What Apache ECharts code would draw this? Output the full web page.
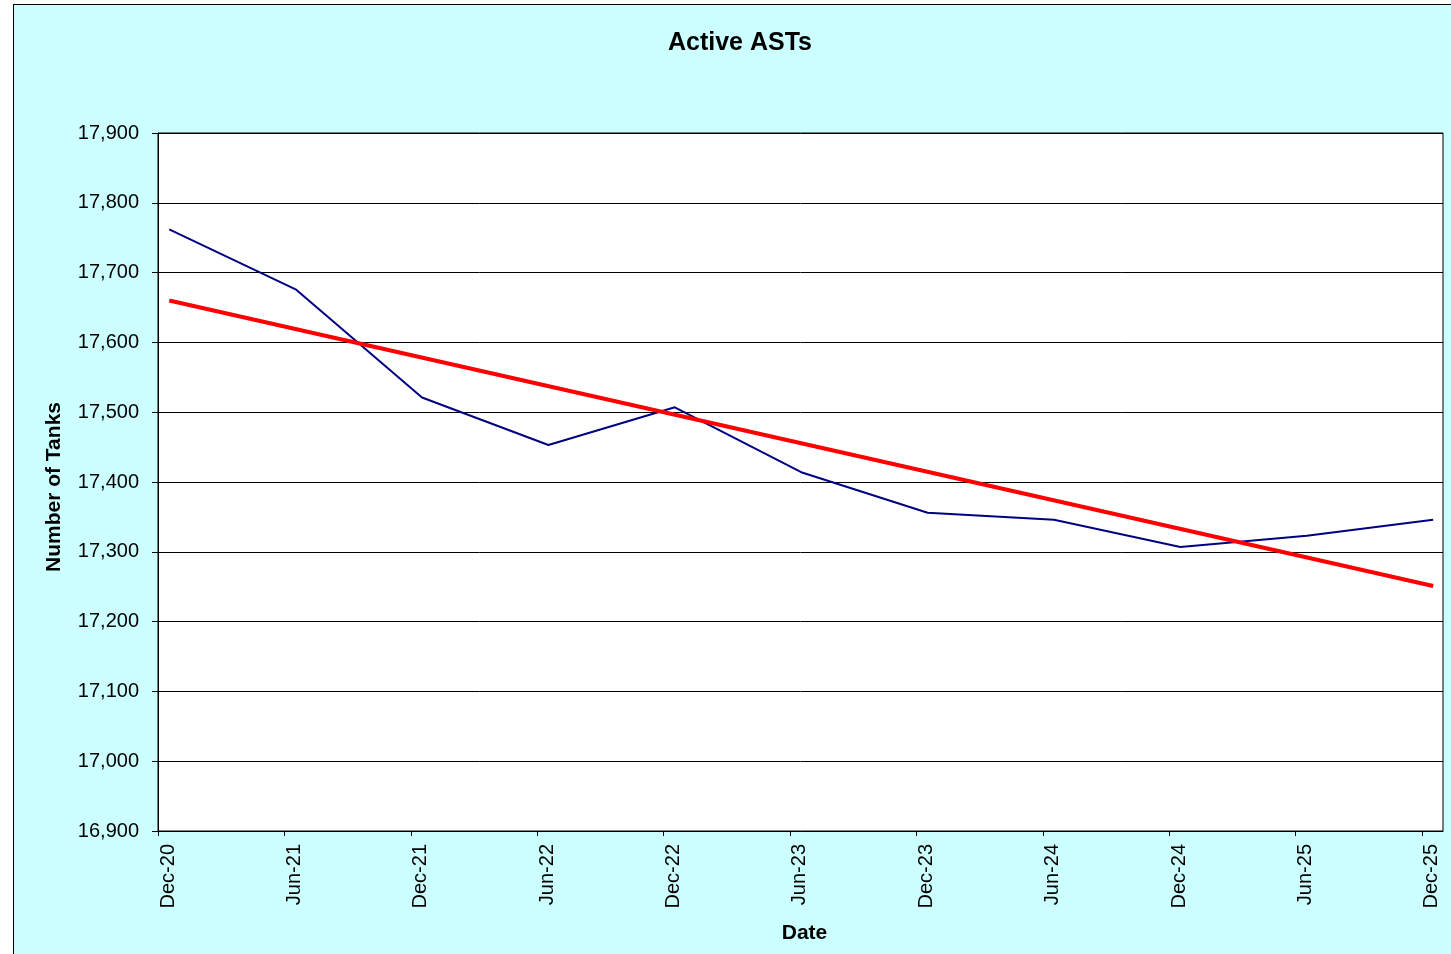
<!DOCTYPE html>
<html>
<head>
<meta charset="utf-8">
<title>Active ASTs</title>
<script src="https://cdn.jsdelivr.net/npm/echarts@6/dist/echarts.min.js"></script>
<style>
    html, body { margin: 0; padding: 0; background: #fff; overflow: hidden; }
    #frame {
        position: absolute; left: 13px; top: 4px; width: 1460px; height: 970px;
        background: #CCFFFF; border-left: 1px solid #000; border-top: 1px solid #000;
    }
    #main { position: absolute; left: 0; top: 0; width: 1451px; height: 954px; }
</style>
</head>
<body>
<div id="frame"></div>
<div id="main"></div>
<script>
// semi-annual counts of active tanks
var sampleDates = ['2020-12-17', '2021-06-17', '2021-12-17', '2022-06-17', '2022-12-17', '2023-06-17',
    '2023-12-17', '2024-06-17', '2024-12-17', '2025-06-17', '2025-12-17'];
var activeTanks = [17762, 17676, 17521, 17453, 17507, 17414, 17356, 17346, 17307, 17323, 17346];

// linear trend, end points
var trendDates = ['2020-12-17', '2025-12-17'];
var trendValues = [17660, 17251];

var tickLabels = ['Dec-20', 'Jun-21', 'Dec-21', 'Jun-22', 'Dec-22', 'Jun-23',
    'Dec-23', 'Jun-24', 'Dec-24', 'Jun-25', 'Dec-25'];

// months since Dec 1 2020
function toMonths(d) {
    var p = d.split('-');
    return (+p[0] - 2020) * 12 + (+p[1] - 12) + (+p[2] - 1) / 30;
}
function pairs(dates, vals) {
    var out = [];
    for (var i = 0; i < dates.length; i++) {
        out.push([toMonths(dates[i]), vals[i]]);
    }
    return out;
}

var font = "'Liberation Sans', Arial, sans-serif";
var myChart = echarts.init(document.getElementById('main'));
var option = {
    animation: false,
    title: {
        text: 'Active ASTs',
        left: 735,
        textAlign: 'center',
        top: 26,
        textStyle: {fontFamily: font, fontSize: 25, fontWeight: 'bold', color: '#000'}
    },
    grid: {
        left: 158, top: 133, right: 8, bottom: 123,
        show: true, backgroundColor: '#fff', borderColor: '#000', borderWidth: 1
    },
    xAxis: {
        type: 'value',
        min: 0,
        max: 61,
        interval: 6,
        name: 'Date',
        nameLocation: 'middle',
        nameGap: 92,
        nameTextStyle: {fontFamily: font, fontSize: 21, fontWeight: 'bold', color: '#000', padding: [0, 0, 0, 8]},
        axisLine: {lineStyle: {color: '#000', width: 1}},
        axisTick: {show: true, length: 5, lineStyle: {color: '#000'}},
        splitLine: {show: false},
        axisLabel: {
            rotate: 90,
            margin: 13,
            verticalAlign: 'top',
            showMaxLabel: false,
            fontFamily: font, fontSize: 20, color: '#000',
            formatter: function (v) {
                if (v % 6 !== 0) return '';
                return tickLabels[v / 6] || '';
            }
        }
    },
    yAxis: {
        type: 'value',
        min: 16900,
        max: 17900,
        interval: 100,
        name: 'Number of Tanks',
        nameLocation: 'middle',
        nameGap: 93,
        nameTextStyle: {fontFamily: font, fontSize: 21, fontWeight: 'bold', color: '#000', padding: [0, 10, 0, 0]},
        axisLine: {show: true, lineStyle: {color: '#000', width: 1}},
        axisTick: {show: true, length: 6, lineStyle: {color: '#000'}},
        splitLine: {show: true, lineStyle: {color: '#000', width: 1}},
        axisLabel: {
            margin: 19,
            fontFamily: font, fontSize: 20, color: '#000',
            formatter: function (v) { return v.toLocaleString('en-US'); }
        }
    },
    series: [
        {
            name: 'Active ASTs',
            type: 'line',
            data: pairs(sampleDates, activeTanks),
            showSymbol: false,
            lineStyle: {color: '#000080', width: 2}
        },
        {
            name: 'Trend',
            type: 'line',
            data: pairs(trendDates, trendValues),
            showSymbol: false,
            lineStyle: {color: '#FF0000', width: 4}
        }
    ]
};
myChart.setOption(option);
</script>
</body>
</html>
